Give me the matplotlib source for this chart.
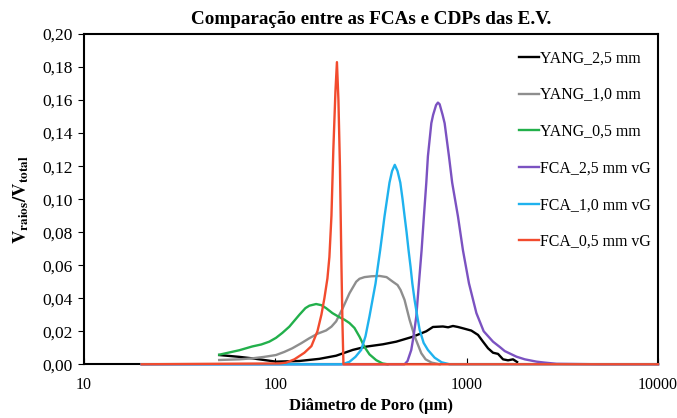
import matplotlib
matplotlib.use("Agg")
import matplotlib.pyplot as plt
from matplotlib.ticker import FixedLocator, FixedFormatter, NullLocator

plt.rcParams["font.family"] = ["Liberation Serif", "DejaVu Serif"]
plt.rcParams["mathtext.fontset"] = "stix"

# values (diameter in um, V_raios/V_total)
yang_25_x = [50.9, 64.8, 75.8, 100.8, 133.6, 170.0, 207.9, 253.9, 298.5, 364.7, 428.5,
             523.4, 615.2, 666.3, 751.5, 800, 847.8, 900, 956.3, 1058, 1146, 1217, 1293, 1373,
             1458, 1549, 1645, 1747, 1834]
yang_25_y = [0.0056, 0.0045, 0.0036, 0.0016, 0.0020, 0.0033, 0.0052, 0.0087, 0.0107, 0.0121, 0.0137,
             0.0167, 0.0200, 0.0226, 0.0229, 0.0224, 0.0232, 0.0226, 0.0218, 0.0204, 0.0178, 0.0137,
             0.0097, 0.0070, 0.0063, 0.0030, 0.0024, 0.0030, 0.0014]

yang_10_x = [50.9, 64.8, 75.8, 87.6, 100.8, 111.5, 122.7, 136.8, 150.7, 166.0, 184.3, 196.5,
             207.9, 216.3, 225.1, 244.0, 264.6, 275.4, 292.4, 318.1, 350.4, 381.3, 411.3, 435.2,
             451.4, 473.6, 503.0, 534.2, 579.2, 610.0, 655.8, 722.3]
yang_10_y = [0.0026, 0.0030, 0.0036, 0.0045, 0.0056, 0.0075, 0.0097, 0.0128, 0.0158, 0.0185, 0.0205, 0.0228,
             0.0260, 0.0300, 0.0340, 0.0430, 0.0500, 0.0518, 0.0528, 0.0533, 0.0535, 0.0528, 0.0500, 0.0480,
             0.0450, 0.0390, 0.0270, 0.0170, 0.0067, 0.0030, 0.0010, 0.0]

yang_05_x = [50.9, 64.8, 75.8, 84.5, 93.0, 100.8, 108.8, 118.4, 133.6, 143.6, 150.7, 163.4,
             174.1, 184.3, 198.8, 216.3, 229.8, 244.0, 259.2, 275.4, 292.4, 310.5, 336.7, 363.2, 385.9]
yang_05_y = [0.0058, 0.0085, 0.0108, 0.0120, 0.0137, 0.0160, 0.0190, 0.0228, 0.0300, 0.0340, 0.0355, 0.0365,
             0.0358, 0.0340, 0.0310, 0.0285, 0.0270, 0.0250, 0.0220, 0.0167, 0.0105, 0.0060, 0.0025, 0.0005, 0.0]

fca_25_x = [20, 473.6, 490.9, 513.4, 527.9, 545.4, 562.8, 581.3, 597.6, 615.2, 627.2, 653.5,
            667.6, 692, 707.6, 722.3, 748.7, 767, 808, 839.8, 900.6, 956.3, 1028, 1124,
            1227, 1373, 1489, 1581, 1821, 2013, 2317, 2562, 2949, 4970, 10000]
fca_25_y = [0.0, 0.0, 0.002, 0.0087, 0.017, 0.029, 0.049, 0.069, 0.0895, 0.110, 0.126, 0.146,
            0.151, 0.157, 0.1585, 0.1575, 0.151, 0.146, 0.126, 0.110, 0.0895, 0.069, 0.049, 0.031,
            0.020, 0.0137, 0.0105, 0.008, 0.0046, 0.003, 0.0016, 0.001, 0.0003, 0.0, 0.0]

fca_10_x = [20, 220.8, 229.8, 244, 262.3, 281, 296, 310.5, 322, 334, 343.2, 353, 363.2, 372,
            383.6, 395, 407.4, 421, 435.2, 450, 462.3, 474, 485.2, 497, 509.1, 520, 534.2,
            552, 567.5, 595.6, 627, 680, 739.8, 815, 10000]
fca_10_y = [0.0, 0.0, 0.0005, 0.0015, 0.0045, 0.0087, 0.017, 0.029, 0.039, 0.049, 0.059, 0.069,
            0.080, 0.0895, 0.100, 0.110, 0.117, 0.1208, 0.117, 0.110, 0.100, 0.0895, 0.080, 0.069,
            0.059, 0.049, 0.039, 0.029, 0.021, 0.013, 0.0087, 0.004, 0.0012, 0.0, 0.0]

fca_05_x = [20, 105, 114, 125.8, 141.9, 154.4, 166, 174.1, 180.5, 187.2, 191.7, 196.5, 201,
            206.1, 209.9, 213.7, 217.6, 221.6, 224.3, 227, 10000]
fca_05_y = [0.0, 0.0005, 0.001, 0.003, 0.007, 0.011, 0.020, 0.030, 0.040, 0.052, 0.065, 0.090, 0.130,
            0.165, 0.183, 0.160, 0.120, 0.060, 0.025, 0.0, 0.0]

series = [
    ("YANG_2,5 mm", yang_25_x, yang_25_y, "#000000"),
    ("YANG_1,0 mm", yang_10_x, yang_10_y, "#8e8e8e"),
    ("YANG_0,5 mm", yang_05_x, yang_05_y, "#22b04b"),
    ("FCA_2,5 mm vG", fca_25_x, fca_25_y, "#7b52c1"),
    ("FCA_1,0 mm vG", fca_10_x, fca_10_y, "#1fb2ee"),
    ("FCA_0,5 mm vG", fca_05_x, fca_05_y, "#f24b2e"),
]

x_ticks = [10, 100, 1000, 10000]
x_labels = ["10", "100", "1000", "10000"]
y_ticks = [0.00, 0.02, 0.04, 0.06, 0.08, 0.10, 0.12, 0.14, 0.16, 0.18, 0.20]
y_labels = ["0,00", "0,02", "0,04", "0,06", "0,08", "0,10", "0,12", "0,14", "0,16", "0,18", "0,20"]

fig = plt.figure(figsize=(6.77, 4.18), dpi=100, facecolor="white")
ax = fig.add_axes([0.124, 0.1285, 0.848, 0.790])

for i, (label, x, y, color) in enumerate(series):
    ax.plot(x, y, color=color, linewidth=1.7, label=label, solid_joinstyle="round",
            clip_on=False, zorder=3 + i)

ax.set_xscale("log")
ax.set_xlim(10, 10000)
ax.set_ylim(0, 0.20)
ax.xaxis.set_major_locator(FixedLocator(x_ticks))
ax.xaxis.set_major_formatter(FixedFormatter(x_labels))
ax.xaxis.set_minor_locator(NullLocator())
ax.yaxis.set_major_locator(FixedLocator(y_ticks))
ax.yaxis.set_major_formatter(FixedFormatter(y_labels))
ax.tick_params(axis="x", direction="in", length=4, labelsize=11.5, pad=9)
ax.tick_params(axis="y", direction="out", length=4, labelsize=12.5, pad=4)

for sp in ax.spines.values():
    sp.set_linewidth(1.5)

ax.set_title("Comparação entre as FCAs e CDPs das E.V.", fontsize=13.8, fontweight="bold", pad=7)
ax.set_xlabel("Diâmetro de Poro (µm)", fontsize=12, fontweight="bold", labelpad=4)
ax.set_ylabel(r"$\mathbf{V}_{\mathbf{raios}}\mathbf{/V}_{\mathbf{total}}$", fontsize=13.5, labelpad=8)

ax.legend(loc="upper right", bbox_to_anchor=(0.998, 0.97), frameon=False, fontsize=11.4,
          handlelength=1.25, handletextpad=0.05, labelspacing=1.31, borderaxespad=0)

fig.savefig("out.png", dpi=100, facecolor="white")
